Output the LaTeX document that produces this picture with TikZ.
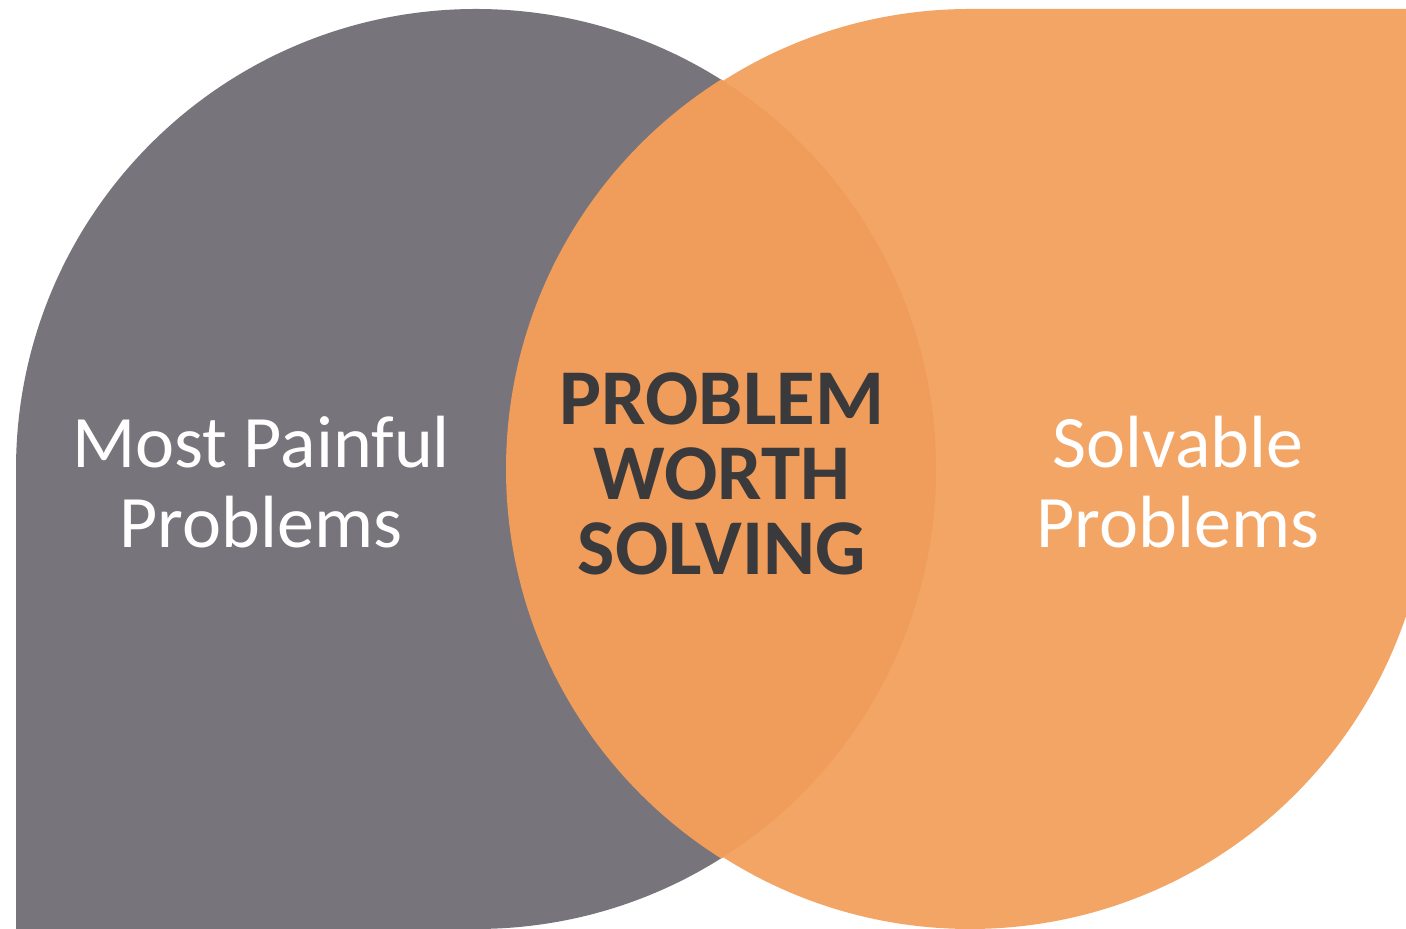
\documentclass[tikz,border=0pt]{standalone}
\usepackage{fontspec}
\setmainfont{Carlito}
\definecolor{painGray}{HTML}{77757B}
\definecolor{solveOrange}{HTML}{F3A566}
\definecolor{overlapOrange}{HTML}{F09C5A}
\definecolor{titleInk}{HTML}{3A3A3C}
\tikzset{
  setlabel/.style={anchor=base, inner sep=0pt, text=white, font=\fontsize{37}{40}\selectfont},
  corelabel/.style={anchor=base, inner sep=0pt, text=titleInk, font=\fontsize{39.5}{40}\selectfont\bfseries},
}
\begin{document}
\begin{tikzpicture}[x=0.5pt,y=0.5pt]
  \useasboundingbox (0,0) rectangle (1406,929);
  \fill[white] (0,0) rectangle (1406,929);
  \clip (0,0) rectangle (1406,929);
  % left set: circle with a square lower-left corner
  \fill[painGray] (16,-2) -- (16,460) arc[start angle=180, end angle=-90, radius=460] -- (476,-2) -- cycle;
  % right set: circle with a square upper-right corner
  \fill[solveOrange] (966,920) -- (1430,920) -- (1430,460) arc[start angle=0, end angle=-270, radius=460] -- cycle;
  % overlap of the two sets
  \begin{scope}
    \clip (476,460) circle[radius=460];
    \fill[overlapOrange] (966,460) circle[radius=460];
  \end{scope}
  % labels
  \node[setlabel] (painA) at (261,461) {Most Painful};
  \node[setlabel] (painB) at (261,381) {Problems};
  \node[setlabel] (solveA) at (1178,461) {Solvable};
  \node[setlabel] (solveB) at (1178,381) {Problems};
  \node[corelabel] (coreA) at (722,504) {PROBLEM};
  \node[corelabel] (coreB) at (722,429) {WORTH};
  \node[corelabel] (coreC) at (722,354) {SOLVING};
\end{tikzpicture}
\end{document}
